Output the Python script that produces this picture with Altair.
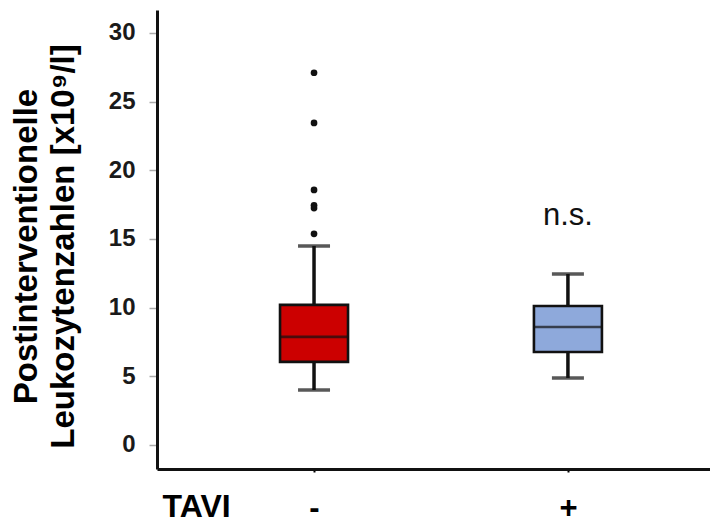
import altair as alt
import pandas as pd

# ---- data ----
groups = ["-", "+"]
q1 = [6.05, 6.77]
median = [7.87, 8.59]
q3 = [10.2, 10.12]
whisker_lo = [4.0, 4.88]
whisker_hi = [14.49, 12.45]
box_colors = ["#CC0000", "#8EA9DB"]

outlier_group = ["-", "-", "-", "-", "-", "-"]
outlier_values = [27.1, 23.45, 18.57, 17.45, 17.25, 15.37]

annot_group = ["+"]
annot_value = [16.02]
annot_text = ["n.s."]

y_ticks = [0, 5, 10, 15, 20, 25, 30]

FONT = "Liberation Sans"

box_df = pd.DataFrame({
    "group": groups, "q1": q1, "median": median, "q3": q3,
    "lo": whisker_lo, "hi": whisker_hi,
})
out_df = pd.DataFrame({"group": outlier_group, "value": outlier_values})
ann_df = pd.DataFrame({"group": annot_group, "value": annot_value, "label": annot_text})

x_enc = alt.X(
    "group:N",
    sort=groups,
    scale=alt.Scale(type="point", domain=groups, padding=0.589, align=0.525),
    axis=alt.Axis(
        title="TAVI",
        titleFont=FONT, titleFontSize=32, titleFontWeight="bold", titleColor="#000",
        titleAlign="left", titleAnchor="start", titleX=5, titleY=47,
        titleBaseline="alphabetic",
        labelFont=FONT, labelFontSize=31, labelFontWeight="bold", labelColor="#000",
        labelAngle=0, labelPadding=21, labelBaseline="top",
        tickSize=3, tickWidth=2, tickColor="#000",
        domainColor="#111", domainWidth=3, grid=False,
    ),
)

y_scale = alt.Scale(domain=[-1.75, 31.67], nice=False, zero=False)
y_axis = alt.Axis(
    values=y_ticks,
    title=["Postinterventionelle", "Leukozytenzahlen [x10⁹/l]"],
    titleFont=FONT, titleFontSize=33, titleFontWeight="bold", titleColor="#000",
    titleAngle=-90, titleAlign="center", titleBaseline="top",
    titleX=-147, titleY=236, titleLineHeight=37,
    labelFont=FONT, labelFontSize=24, labelFontWeight="bold", labelColor="#1a1a1a",
    labelPadding=14,
    tickSize=8, tickWidth=1.5, tickColor="#aaa",
    domainColor="#111", domainWidth=3, grid=False,
)

color_enc = alt.Color("group:N", scale=alt.Scale(domain=groups, range=box_colors), legend=None)

whiskers = alt.Chart(box_df).mark_rule(color="#111", strokeWidth=3.5).encode(
    x=x_enc,
    y=alt.Y("lo:Q", scale=y_scale, axis=y_axis),
    y2="hi:Q",
)

caps_lo = alt.Chart(box_df).mark_tick(color="#111", size=32, thickness=3.5).encode(
    x=alt.X("group:N"), y=alt.Y("lo:Q")
)
caps_hi = alt.Chart(box_df).mark_tick(color="#111", size=32, thickness=3.5).encode(
    x=alt.X("group:N"), y=alt.Y("hi:Q")
)

boxes = alt.Chart(box_df).mark_bar(size=68, stroke="#111", strokeWidth=2.6).encode(
    x=alt.X("group:N"), y=alt.Y("q1:Q"), y2="q3:Q", color=color_enc,
)

medians = alt.Chart(box_df).mark_tick(color="#111", size=68, thickness=2.6).encode(
    x=alt.X("group:N"), y=alt.Y("median:Q")
)

outliers = alt.Chart(out_df).mark_circle(color="#111", size=45, opacity=1).encode(
    x=alt.X("group:N"), y=alt.Y("value:Q")
)

annot = alt.Chart(ann_df).mark_text(
    font=FONT, fontSize=31, color="#111", baseline="alphabetic", align="center"
).encode(x=alt.X("group:N"), y=alt.Y("value:Q"), text="label:N")

chart = alt.layer(whiskers, caps_lo, caps_hi, boxes, medians, outliers, annot).properties(
    width=553, height=459,
    padding={"left": 157, "top": 10, "right": 0, "bottom": 49},
    autosize=alt.AutoSizeParams(type="none"),
    background="white",
).configure_view(stroke=None)

chart.save("out.html", embed_options={"renderer": "svg", "actions": False})
